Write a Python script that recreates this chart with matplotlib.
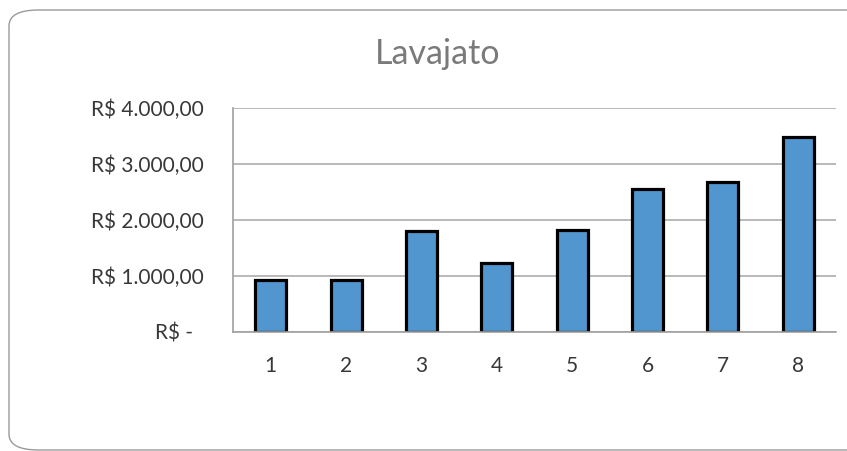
import numpy as np
import matplotlib.pyplot as plt
from matplotlib.patches import FancyBboxPatch

categories = ['1', '2', '3', '4', '5', '6', '7', '8']
valores = [920, 920, 1800, 1240, 1815, 2550, 2670, 3475]
yticks = [0, 1000, 2000, 3000, 4000]
ylabels = ['R$ -  ', 'R$ 1.000,00', 'R$ 2.000,00', 'R$ 3.000,00', 'R$ 4.000,00']

plt.rcParams['font.family'] = ['Lato', 'DejaVu Sans']

fig = plt.figure(figsize=(8.47, 4.51), dpi=100)
frame = FancyBboxPatch((9/847, 1/451), 900/847, 440/451,
                       boxstyle='round,pad=0,rounding_size=0.035',
                       transform=fig.transFigure, facecolor='white',
                       edgecolor='#9a9a9a', linewidth=1.0, zorder=-1)
fig.patches.append(frame)

ax = fig.add_axes([233/847, 1 - 332/451, (836 - 233)/847, (332 - 108)/451])
ax.set_zorder(1)
ax.set_facecolor('none')
x = np.arange(len(categories))
ax.bar(x, valores, width=0.41, color='#5296d0', edgecolor='black',
       linewidth=2.3, zorder=3)

ax.set_xlim(-0.5, len(categories) - 0.5)
ax.set_ylim(0, 4000)
ax.set_xticks(x)
ax.set_xticklabels(categories)
ax.set_yticks(yticks)
ax.set_yticklabels(ylabels)
ax.tick_params(axis='both', length=0, labelsize=15, colors='#383838')
ax.tick_params(axis='y', pad=21)
ax.tick_params(axis='x', pad=17)

ax.grid(axis='y', color='#b3b3b3', linewidth=1.3, zorder=0)
for s in ['top', 'right']:
    ax.spines[s].set_visible(False)
ax.spines['left'].set_color('#a0a0a0')
ax.spines['bottom'].set_color('#a0a0a0')
ax.spines['left'].set_linewidth(1.2)
ax.spines['bottom'].set_linewidth(1.2)
ax.spines['bottom'].set_zorder(4)

fig.text(438/847, 1 - 54/451, 'Lavajato', ha='center', va='center',
         fontsize=24.5, color='#7a7a7a')

fig.savefig('out.png', dpi=100)
